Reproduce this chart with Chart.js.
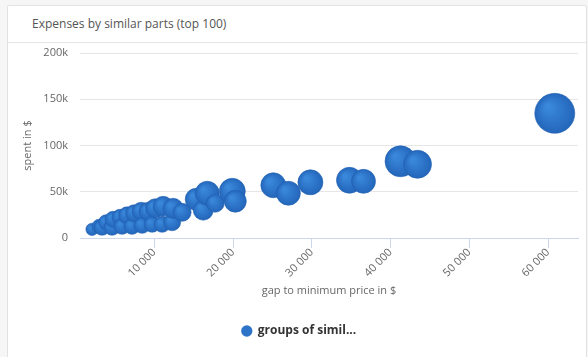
<!DOCTYPE html>
<html>
<head>
<meta charset="utf-8">
<title>Expenses by similar parts</title>
<script src="https://cdn.jsdelivr.net/npm/chart.js@4.4.0/dist/chart.umd.min.js"></script>
<style>
  html, body { margin: 0; padding: 0; width: 588px; height: 357px; overflow: hidden; background: #f6f6f6; font-family: "Open Sans", sans-serif; }
  .card { position: absolute; left: 7px; top: 5px; width: 578px; height: 360px; background: #fff; border: 1px solid #e2e2e2; border-radius: 2px; }
  .head { height: 36px; border-bottom: 1px solid #e6e6e6; }
  .head h1 { margin: 0; padding-left: 24px; font-size: 12px; font-weight: normal; line-height: 36px; color: #555; }
  canvas { display: block; }
</style>
</head>
<body>
<div class="card">
  <div class="head"><h1>Expenses by similar parts (top 100)</h1></div>
  <canvas id="chart" width="578" height="314"></canvas>
</div>
<script>
// Each group of similar parts: gap to the minimum price ($), total spent ($), group weight
const gapToMin = [2090, 2980, 3360, 3870, 4630, 4760, 5650, 5900, 6540, 7170, 7430, 8320, 8450,
  9210, 9720, 10100, 10990, 11120, 12260, 12390, 13530,
  15320, 16210, 16720, 17730, 19900, 20280,
  25110, 27020, 29820, 34780, 36560, 41260, 43420, 60850];
const spent = [9400, 12600, 11600, 17000, 11600, 20200, 22400, 12600, 24500, 12600, 26700, 28900, 13700,
  28900, 14800, 32100, 14800, 34300, 17000, 32100, 27800,
  41900, 30100, 48400, 37600, 50500, 39800,
  57000, 48400, 60200, 62400, 61300, 82900, 79700, 134800];
const groupWeight = [0.5, 3.6, 7.7, 5.6, 7.7, 7.7, 7.7, 7.7, 9.9, 7.7, 9.9, 12.4, 7.7,
  12.4, 7.7, 14.9, 7.7, 17.6, 9.9, 17.6, 12.4,
  23.4, 17.6, 29.7, 12.4, 36.5, 23.4,
  33, 29.7, 33, 36.5, 29.7, 56, 44, 100];

const xTickValues = [10000, 20000, 30000, 40000, 50000, 60000];
const yTickValues = [0, 50000, 100000, 150000, 200000];
const seriesLabel = 'groups of simil...';

const MIN_R = 6, MAX_R = 20;
const maxWeight = Math.max(...groupWeight);
// bubble area grows linearly with the group weight
function bubbleRadius(w) {
  return Math.sqrt(MIN_R * MIN_R + (w / maxWeight) * (MAX_R * MAX_R - MIN_R * MIN_R));
}

const fmtThousands = v => String(v).replace(/\B(?=(\d{3})+(?!\d))/g, ' ');
const fmtK = v => (v === 0 ? '0' : (v / 1000) + 'k');

Chart.defaults.font.family = "'Open Sans', sans-serif";
Chart.defaults.color = '#666';

const BASE = '#2d73c8';

new Chart(document.getElementById('chart'), {
  type: 'bubble',
  data: {
    datasets: [{
      label: seriesLabel,
      data: gapToMin.map((x, i) => ({ x, y: spent[i], w: groupWeight[i] })),
      radius: ctx => (ctx.raw ? bubbleRadius(ctx.raw.w) : 6),
      backgroundColor: ctx => {
        const c = ctx.chart;
        if (ctx.type !== 'data' || !ctx.raw || !c.scales.x || !c.scales.y) return BASE;
        const px = c.scales.x.getPixelForValue(ctx.raw.x);
        const py = c.scales.y.getPixelForValue(ctx.raw.y);
        if (!isFinite(px) || !isFinite(py)) return BASE;
        const r = bubbleRadius(ctx.raw.w);
        const g = c.ctx.createRadialGradient(px - r * 0.35, py - r * 0.35, r * 0.1, px, py, r);
        g.addColorStop(0, '#3a88db');
        g.addColorStop(1, '#2366ba');
        return g;
      },
      borderColor: 'rgba(34, 96, 178, 0.6)',
      borderWidth: 1,
      clip: false
    }]
  },
  options: {
    responsive: false,
    animation: false,
    events: [],
    layout: { autoPadding: false, padding: { left: 12, right: 8, top: 10, bottom: 10 } },
    plugins: {
      tooltip: { enabled: false },
      legend: {
        position: 'bottom',
        labels: {
          usePointStyle: true,
          boxWidth: 10,
          boxHeight: 8,
          padding: 10,
          color: '#333',
          font: { size: 12, weight: 'bold' },
          generateLabels: chart => Chart.defaults.plugins.legend.labels.generateLabels(chart)
            .map(l => Object.assign(l, { fillStyle: BASE, strokeStyle: BASE, lineWidth: 0 }))
        }
      }
    },
    scales: {
      x: {
        type: 'linear',
        min: 560,
        max: 63800,
        afterBuildTicks: s => { s.ticks = xTickValues.map(value => ({ value })); },
        afterFit: s => { s.height = 77; },
        grid: { drawOnChartArea: false, drawTicks: true, tickLength: 10, color: '#ccd6eb' },
        border: { color: '#ccd6eb' },
        ticks: {
          minRotation: 45, maxRotation: 45, padding: -2,
          font: { size: 11 }, color: '#666',
          callback: v => fmtThousands(v)
        },
        title: {
          display: true, text: 'gap to minimum price in $',
          font: { size: 11 }, color: '#666',
          padding: { top: 0, bottom: 18 }
        }
      },
      y: {
        type: 'linear',
        min: 0,
        max: 200000,
        afterBuildTicks: s => { s.ticks = yTickValues.map(value => ({ value })); },
        afterFit: s => { s.width = 60; },
        grid: { color: '#e6e6e6', drawTicks: true, tickLength: 12, tickColor: 'rgba(0,0,0,0)' },
        border: { display: false },
        ticks: { padding: 0, font: { size: 11 }, color: '#666', callback: v => fmtK(v) },
        title: {
          display: true, text: 'spent in $',
          font: { size: 11 }, color: '#666',
          padding: { top: 1, bottom: 0 }
        }
      }
    }
  }
});
</script>
</body>
</html>
